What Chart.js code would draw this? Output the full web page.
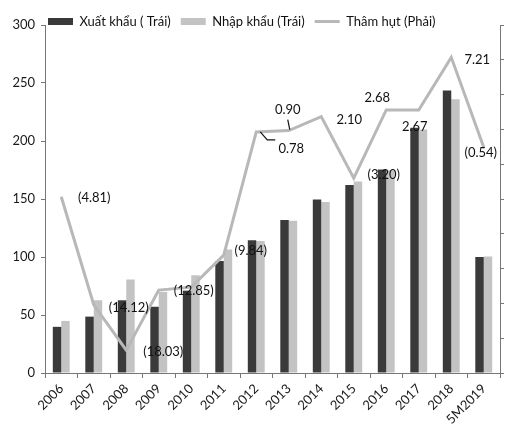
<!DOCTYPE html>
<html lang="vi">
<head>
<meta charset="UTF-8">
<title>Xuất nhập khẩu và thâm hụt</title>
<script src="https://cdn.jsdelivr.net/npm/chart.js"></script>
<style>
  html, body { margin: 0; padding: 0; background: #fff; }
</style>
</head>
<body>
<canvas id="tradeChart" width="506" height="434"></canvas>
<script>
const years = ['2006', '2007', '2008', '2009', '2010', '2011', '2012', '2013', '2014', '2015', '2016', '2017', '2018', '5M2019'];
const exportsVal = [39.8, 48.6, 62.7, 57.1, 71.0, 96.6, 114.5, 132.0, 149.5, 162.0, 175.5, 211.5, 243.5, 99.9];
const importsVal = [44.9, 62.7, 80.7, 69.9, 84.2, 106.4, 113.8, 131.3, 147.5, 165.0, 174.8, 210.0, 236.0, 100.5];
const balance = [-4.81, -14.12, -18.03, -12.85, -12.6, -9.84, 0.78, 0.90, 2.10, -3.20, 2.68, 2.67, 7.21, -0.54];
const balanceLabels = ['(4.81)', '(14.12)', '(18.03)', '(12.85)', '', '(9.84)', '0.78', '0.90', '2.10', '(3.20)', '2.68', '2.67', '7.21', '(0.54)'];

// where each balance label sits relative to its point (dx, dy)
const labelShift = [[33, 1], [35, 3], [37, 2], [35, 1], [0, 0], [27, -4], [35, 17], [-1, -21], [28, 3], [30, -3], [-9, -12], [-4, 17], [26, 2], [-3, 6]];
// little leader lines for the crowded 2012/2013 labels
const leaders = { 6: [[4, 0], [11, 8], [19, 8]], 7: [[1, -1], [-1, -11]] };

const FONT = 'Lato, "Open Sans", sans-serif';
Chart.defaults.font.family = FONT;
Chart.defaults.color = '#1a1a1a';

const legendFit = {
  id: 'legendFit',
  beforeInit(chart) {
    const fit = chart.legend.fit;
    chart.legend.fit = function () {
      fit.call(this);
      this.height = 25;
    };
  },
  afterLayout(chart) {
    // legend sits a bit lower and to the right, over the top of the plot
    chart.legend.left = 38;
    chart.legend.top = 5;
    chart.legend.bottom = 40;
  }
};

const balanceText = {
  id: 'balanceText',
  afterDatasetsDraw(chart) {
    const ctx = chart.ctx;
    const pts = chart.getDatasetMeta(2).data;
    ctx.save();
    ctx.font = '13px ' + FONT;
    ctx.fillStyle = '#111';
    ctx.textAlign = 'center';
    ctx.textBaseline = 'middle';
    pts.forEach((p, i) => {
      if (!balanceLabels[i]) return;
      const [dx, dy] = labelShift[i];
      ctx.fillText(balanceLabels[i], p.x + dx, p.y + dy);
      if (leaders[i]) {
        ctx.strokeStyle = '#111';
        ctx.lineWidth = 1.2;
        ctx.beginPath();
        leaders[i].forEach(([lx, ly], k) => {
          if (k === 0) ctx.moveTo(p.x + lx, p.y + ly);
          else ctx.lineTo(p.x + lx, p.y + ly);
        });
        ctx.stroke();
      }
    });
    ctx.restore();
  }
};

new Chart(document.getElementById('tradeChart'), {
  data: {
    labels: years,
    datasets: [
      {
        type: 'bar',
        label: 'Xuất khẩu ( Trái)',
        data: exportsVal,
        backgroundColor: '#3a3a3a',
        yAxisID: 'y',
        barPercentage: 1,
        categoryPercentage: 0.52,
        pointStyle: 'rect',
        order: 2
      },
      {
        type: 'bar',
        label: 'Nhập khẩu (Trái)',
        data: importsVal,
        backgroundColor: '#c3c3c3',
        yAxisID: 'y',
        barPercentage: 1,
        categoryPercentage: 0.52,
        pointStyle: 'rect',
        order: 2
      },
      {
        type: 'line',
        label: 'Thâm hụt (Phải)',
        data: balance,
        borderColor: '#b8b8b8',
        backgroundColor: '#b8b8b8',
        borderWidth: 3,
        pointRadius: 0,
        pointStyle: 'line',
        tension: 0,
        yAxisID: 'y1',
        order: 1
      }
    ]
  },
  options: {
    responsive: false,
    animation: false,
    layout: { padding: { left: 0, right: 2, top: 0, bottom: 0 } },
    plugins: {
      legend: {
        position: 'top',
        align: 'start',
        labels: {
          usePointStyle: true,
          pointStyleWidth: 25,
          boxHeight: 7,
          padding: 10,
          font: { size: 13 },
          color: '#111',
          sort: (a, b) => a.datasetIndex - b.datasetIndex
        }
      },
      tooltip: { enabled: false }
    },
    scales: {
      x: {
        offset: true,
        grid: { display: true, offset: true, drawOnChartArea: false, drawTicks: true, tickLength: 5, color: '#777' },
        border: { color: '#777' },
        ticks: { minRotation: 45, maxRotation: 45, font: { size: 13 }, padding: 3 },
        afterFit(scale) { scale.height = 61; }
      },
      y: {
        position: 'left',
        min: 0,
        max: 300,
        grid: { drawOnChartArea: false, tickLength: 4, color: '#777' },
        border: { color: '#777' },
        ticks: { stepSize: 50, font: { size: 13 }, padding: 6 },
        afterFit(scale) { scale.width = 45; }
      },
      y1: {
        position: 'right',
        min: -20,
        max: 10,
        grid: { drawOnChartArea: false, tickLength: 4, color: '#777' },
        border: { color: '#777' },
        ticks: { stepSize: 3, display: false }
      }
    }
  },
  plugins: [legendFit, balanceText]
});
</script>
</body>
</html>
